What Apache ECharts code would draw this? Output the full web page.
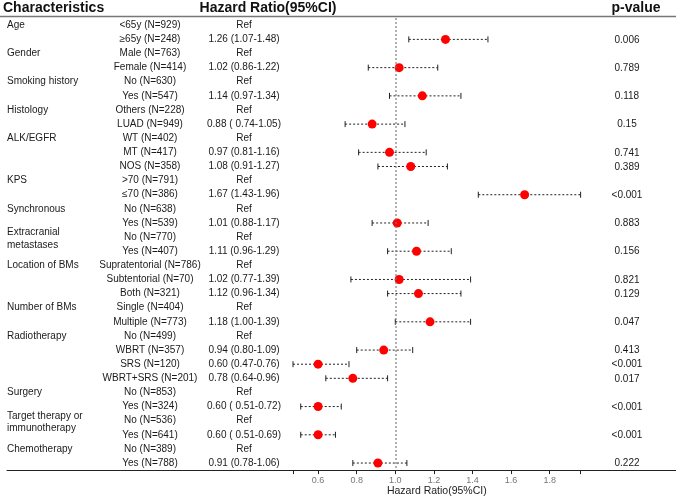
<!DOCTYPE html>
<html>
<head>
<meta charset="utf-8">
<script src="https://cdn.jsdelivr.net/npm/echarts@6/dist/echarts.min.js"></script>
<style>html,body{margin:0;padding:0;background:#fff;}#c{width:676px;height:497px;}</style>
</head>
<body>
<div id="c"></div>
<script>
const groupLabels = ['Age', 'Gender', 'Smoking history', 'Histology', 'ALK/EGFR', 'KPS', 'Synchronous',
  'Extracranial\nmetastases', 'Location of BMs', 'Number of BMs', 'Radiotherapy', 'Surgery',
  'Target therapy or\nimmunotherapy', 'Chemotherapy'];
const groupRowCounts = [2, 2, 2, 2, 3, 2, 2, 2, 3, 2, 4, 2, 2, 2];
const subgroupLabels = [
  '<65y (N=929)', '≥65y (N=248)',
  'Male (N=763)', 'Female (N=414)',
  'No (N=630)', 'Yes (N=547)',
  'Others (N=228)', 'LUAD (N=949)',
  'WT (N=402)', 'MT (N=417)', 'NOS (N=358)',
  '>70 (N=791)', '≤70 (N=386)',
  'No (N=638)', 'Yes (N=539)',
  'No (N=770)', 'Yes (N=407)',
  'Supratentorial (N=786)', 'Subtentorial (N=70)', 'Both (N=321)',
  'Single (N=404)', 'Multiple (N=773)',
  'No (N=499)', 'WBRT (N=357)', 'SRS (N=120)', 'WBRT+SRS (N=201)',
  'No (N=853)', 'Yes (N=324)',
  'No (N=536)', 'Yes (N=641)',
  'No (N=389)', 'Yes (N=788)'
];
const hrLabels = [
  'Ref', '1.26 (1.07-1.48)',
  'Ref', '1.02 (0.86-1.22)',
  'Ref', '1.14 (0.97-1.34)',
  'Ref', '0.88 ( 0.74-1.05)',
  'Ref', '0.97 (0.81-1.16)', '1.08 (0.91-1.27)',
  'Ref', '1.67 (1.43-1.96)',
  'Ref', '1.01 (0.88-1.17)',
  'Ref', '1.11 (0.96-1.29)',
  'Ref', '1.02 (0.77-1.39)', '1.12 (0.96-1.34)',
  'Ref', '1.18 (1.00-1.39)',
  'Ref', '0.94 (0.80-1.09)', '0.60 (0.47-0.76)', '0.78 (0.64-0.96)',
  'Ref', '0.60 ( 0.51-0.72)',
  'Ref', '0.60 ( 0.51-0.69)',
  'Ref', '0.91 (0.78-1.06)'
];
const hrValues = [null, 1.26, null, 1.02, null, 1.14, null, 0.88, null, 0.97, 1.08, null, 1.67, null, 1.01,
  null, 1.11, null, 1.02, 1.12, null, 1.18, null, 0.94, 0.60, 0.78, null, 0.60, null, 0.60, null, 0.91];
const ciLower = [null, 1.07, null, 0.86, null, 0.97, null, 0.74, null, 0.81, 0.91, null, 1.43, null, 0.88,
  null, 0.96, null, 0.77, 0.96, null, 1.00, null, 0.80, 0.47, 0.64, null, 0.51, null, 0.51, null, 0.78];
const ciUpper = [null, 1.48, null, 1.22, null, 1.34, null, 1.05, null, 1.16, 1.27, null, 1.96, null, 1.17,
  null, 1.29, null, 1.39, 1.34, null, 1.39, null, 1.09, 0.76, 0.96, null, 0.72, null, 0.69, null, 1.06];
const pLabels = ['', '0.006', '', '0.789', '', '0.118', '', '0.15', '', '0.741', '0.389', '', '<0.001', '', '0.883',
  '', '0.156', '', '0.821', '0.129', '', '0.047', '', '0.413', '<0.001', '0.017', '', '<0.001', '', '<0.001', '', '0.222'];
const xTickValues = [0.47, 0.6, 0.8, 1.0, 1.2, 1.4, 1.6, 1.8, 1.96];
const xLabelValues = [0.6, 0.8, 1.0, 1.2, 1.4, 1.6, 1.8];

const FONT = '"Liberation Sans", Arial, Helvetica, sans-serif';
const nRows = subgroupLabels.length;
const rowCats = subgroupLabels.map((_, i) => String(i));

// group label per row
const groupAtRow = new Array(nRows).fill('');
let r0 = 0;
groupLabels.forEach((g, k) => { groupAtRow[r0] = g; r0 += groupRowCounts[k]; });

function textSeries(getText, x, align, yOff) {
  return {
    type: 'custom', xAxisIndex: 1, yAxisIndex: 1, silent: true, clip: false, z: 5,
    data: rowCats.map((_, i) => [0, i]),
    renderItem: (params, api) => {
      const i = params.dataIndex;
      const t = getText(i);
      if (!t) return null;
      const pt = api.coord([0, i]);
      const multi = t.indexOf('\n') >= 0;
      return {
        type: 'text', x: x, y: pt[1] + (multi ? 1.5 : 0) + (yOff || 0),
        style: { text: t, align: align, verticalAlign: 'middle', fontSize: 10, lineHeight: 12.5,
          fontFamily: FONT, fill: '#1a1a1a' }
      };
    }
  };
}

const chart = echarts.init(document.getElementById('c'), null, { renderer: 'canvas' });
const gridTop = 18.2, gridBottom = 26.9;
chart.setOption({
  animation: false,
  backgroundColor: '#fff',
  grid: [
    { left: 293, right: 95.4, top: gridTop, bottom: gridBottom, outerBoundsMode: 'none', containLabel: false },
    { left: 7, right: 0, top: gridTop, bottom: gridBottom, outerBoundsMode: 'none', containLabel: false }
  ],
  xAxis: [
    {
      type: 'value', gridIndex: 0, min: 0.47, max: 1.96,
      axisLine: { show: true, lineStyle: { color: '#222', width: 1 } },
      axisTick: { show: true, length: 4, customValues: xTickValues, lineStyle: { color: '#222', width: 1 } },
      axisLabel: { show: true, customValues: xLabelValues, fontSize: 9, color: '#777', margin: 6, fontFamily: FONT,
        formatter: v => v.toFixed(1) },
      splitLine: { show: false },
      name: 'Hazard Ratio(95%CI)', nameLocation: 'middle', nameGap: 16, nameMoveOverlap: false,
      nameTextStyle: { fontSize: 10.5, color: '#222', fontFamily: FONT }
    },
    {
      type: 'value', gridIndex: 1, min: 0, max: 1,
      axisLine: { show: true, lineStyle: { color: '#222', width: 1 } },
      axisTick: { show: false }, axisLabel: { show: false }, splitLine: { show: false }
    }
  ],
  yAxis: [
    { type: 'category', gridIndex: 0, data: rowCats, inverse: true, show: false },
    { type: 'category', gridIndex: 1, data: rowCats, inverse: true, show: false }
  ],
  graphic: [
    { type: 'line', shape: { x1: 0, y1: 16.5, x2: 676, y2: 16.5 }, style: { stroke: '#777', lineWidth: 1.5 }, z: 10 },
    { type: 'text', x: 3, y: 8.5, style: { text: 'Characteristics', fontSize: 14, fontWeight: 'bold', fill: '#111',
      fontFamily: FONT, align: 'left', verticalAlign: 'middle' } },
    { type: 'text', x: 268, y: 8.5, style: { text: 'Hazard Ratio(95%CI)', fontSize: 14, fontWeight: 'bold', fill: '#111',
      fontFamily: FONT, align: 'center', verticalAlign: 'middle' } },
    { type: 'text', x: 636, y: 8.5, style: { text: 'p-value', fontSize: 14, fontWeight: 'bold', fill: '#111',
      fontFamily: FONT, align: 'center', verticalAlign: 'middle' } }
  ],
  series: [
    textSeries(i => groupAtRow[i], 7, 'left'),
    textSeries(i => subgroupLabels[i], 150, 'center'),
    textSeries(i => hrLabels[i], 244, 'center'),
    textSeries(i => pLabels[i], 627, 'center', 0.5),
    {
      type: 'custom', xAxisIndex: 0, yAxisIndex: 0, silent: true, clip: false, z: 3,
      data: hrValues.map((v, i) => [i, ciLower[i], ciUpper[i]]).filter(d => d[1] != null),
      encode: { x: [1, 2], y: 0 },
      renderItem: (params, api) => {
        const row = api.value(0);
        const p1 = api.coord([api.value(1), row]);
        const p2 = api.coord([api.value(2), row]);
        const st = { stroke: '#222', lineWidth: 1 };
        return {
          type: 'group', children: [
            { type: 'line', shape: { x1: p1[0], y1: p1[1], x2: p2[0], y2: p2[1] },
              style: { stroke: '#222', lineWidth: 1, lineDash: [2, 2] } },
            { type: 'line', shape: { x1: p1[0], y1: p1[1] - 3, x2: p1[0], y2: p1[1] + 3 }, style: st },
            { type: 'line', shape: { x1: p2[0], y1: p2[1] - 3, x2: p2[0], y2: p2[1] + 3 }, style: st }
          ]
        };
      }
    },
    {
      type: 'scatter', xAxisIndex: 0, yAxisIndex: 0, z: 4, silent: true,
      symbol: 'circle', symbolSize: 9,
      itemStyle: { color: '#ff0000', opacity: 1 },
      data: hrValues.map((v, i) => [v, i]).filter(d => d[0] != null),
      markLine: {
        silent: true, symbol: 'none', label: { show: false },
        lineStyle: { color: '#777', width: 1.5, type: [1.5, 2.5] },
        data: [{ xAxis: 1 }]
      }
    }
  ]
});
</script>
</body>
</html>
